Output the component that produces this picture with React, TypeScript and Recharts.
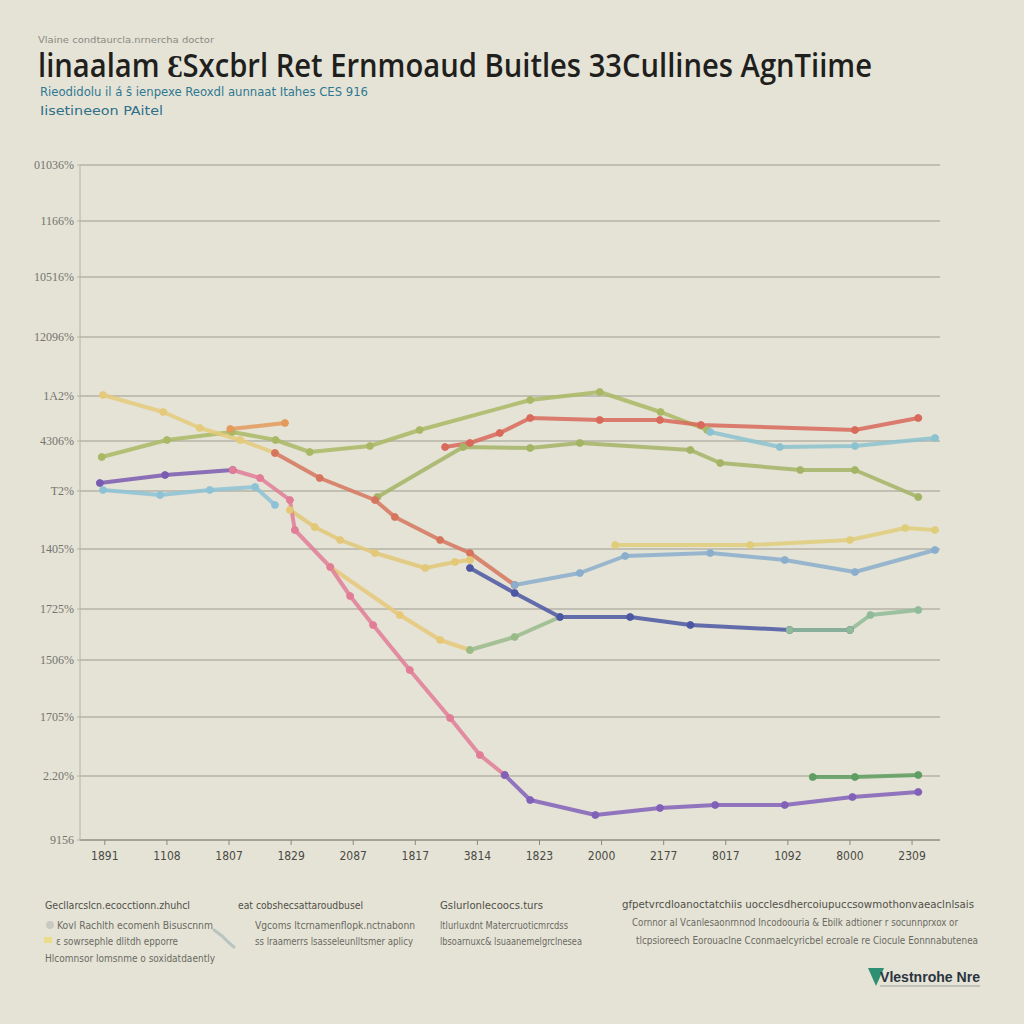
import { LineChart, Line, XAxis, YAxis, CartesianGrid } from 'recharts';

// x is a year index (0..13), y is the chart's own value scale
const years = ['1891', '1108', '1807', '1829', '2087', '1817', '3814', '1823', '2000', '2177', '8017', '1092', '8000', '2309'];
const leftTicks = [675, 619, 563, 503, 444, 399, 349, 291, 231, 180, 123, 64, 0];
const leftLabels = ['01036%', '1166%', '10516%', '12096%', '1A2%', '4306%', 'T2%', '1405%', '1725%', '1506%', '1705%', '2.20%', '9156'];
const rightTicks = [675, 618, 562, 504, 452, 407, 350, 294, 243, 218, 180, 123, 66, 0];
const rightLabels = ['32%', '23%', '35%', '27%', '28%', '33%', '15%', '31%', '45%', '58.500', '45%', '42%', '39%', 'TO%'];

const oliveTop = [[-0.05, 383], [1.0, 400], [2.05, 408], [2.75, 400], [3.3, 388], [4.27, 394], [5.07, 410], [6.85, 440], [7.97, 448], [8.95, 428], [9.7, 410]];
const tealRight = [[9.75, 408], [10.87, 393], [12.08, 394], [13.37, 402]];
const redTopRight = [[5.48, 393], [5.88, 397], [6.36, 407], [6.85, 422], [7.97, 420], [8.94, 420], [9.6, 415], [12.08, 410], [13.1, 422]];
const oliveMid = [[4.39, 343], [5.77, 393], [6.85, 392], [7.65, 397], [9.43, 390], [9.91, 377], [11.2, 370], [12.08, 370], [13.1, 343]];
const orangeShort = [[2.02, 411], [2.9, 417]];
const yellowTop = [[-0.03, 445], [0.94, 428], [1.53, 412], [2.18, 400], [2.74, 387]];
const redDesc = [[2.74, 387], [3.46, 362], [4.35, 340], [4.67, 323], [5.4, 300], [5.88, 287], [6.6, 255]];
const lightBlue = [[-0.03, 350], [0.89, 345], [1.69, 350], [2.42, 353], [2.74, 335]];
const purple = [[-0.08, 357], [0.97, 365], [2.06, 370]];
const pink = [[2.06, 370], [2.5, 362], [2.98, 340], [3.06, 310], [3.63, 273], [3.95, 244], [4.32, 215], [4.91, 170], [5.56, 122], [6.04, 85], [6.44, 65]];
const purpleBottom = [[6.44, 65], [6.85, 40], [7.9, 25], [8.94, 32], [9.83, 35], [10.95, 35], [12.04, 43], [13.1, 48]];
const yellowMid = [[2.98, 330], [3.38, 313], [3.79, 300], [4.35, 287], [5.16, 272], [5.64, 278], [5.88, 280]];
const yellowLow = [[3.63, 273], [4.75, 225], [5.4, 200], [5.88, 190]];
const greenLow = [[5.88, 190], [6.6, 203], [7.33, 223]];
const blueDark = [[5.88, 272], [6.6, 247], [7.33, 223], [8.46, 223], [9.43, 215], [11.03, 210], [12.0, 210]];
const greenRight = [[11.03, 210], [12.0, 210], [12.33, 225], [13.1, 230]];
const blueMid = [[6.6, 255], [7.65, 267], [8.38, 284], [9.75, 287], [10.95, 280], [12.08, 268], [13.37, 290]];
const yellowRight = [[8.22, 295], [10.39, 295], [12.0, 300], [12.89, 312], [13.37, 310]];
const greenTip = [[11.4, 63], [12.08, 63], [13.1, 65]];

const series = [
    { id: 'oliveTop', pts: oliveTop, color: '#a9b864' },
    { id: 'tealRight', pts: tealRight, color: '#8cc2cf' },
    { id: 'redTopRight', pts: redTopRight, color: '#d8695b' },
    { id: 'oliveMid', pts: oliveMid, color: '#a4b465' },
    { id: 'orangeShort', pts: orangeShort, color: '#e39a5a' },
    { id: 'yellowTop', pts: yellowTop, color: '#e4ca7a' },
    { id: 'redDesc', pts: redDesc, color: '#d6755e' },
    { id: 'lightBlue', pts: lightBlue, color: '#8dc2d6' },
    { id: 'purple', pts: purple, color: '#7a5bb2' },
    { id: 'yellowMid', pts: yellowMid, color: '#e2c877' },
    { id: 'yellowLow', pts: yellowLow, color: '#e6c878' },
    { id: 'pink', pts: pink, color: '#e27d98' },
    { id: 'purpleBottom', pts: purpleBottom, color: '#8160b8' },
    { id: 'greenLow', pts: greenLow, color: '#98bb88' },
    { id: 'blueDark', pts: blueDark, color: '#4b57a3' },
    { id: 'greenRight', pts: greenRight, color: '#8fbb98' },
    { id: 'blueMid', pts: blueMid, color: '#8aaecb' },
    { id: 'yellowRight', pts: yellowRight, color: '#e0cd7a' },
    { id: 'greenTip', pts: greenTip, color: '#5f9e62' },
];

const tickFmt = (ticks: number[], labels: string[]) => (v: number) => labels[ticks.indexOf(v)] ?? '';

const legendGray = '#6a6a62';

export default function App() {
    return (
        <div style={{ position: 'absolute', left: 0, top: 0, width: 1024, height: 1024, background: '#e5e3d6', overflow: 'hidden' }}>
            <LineChart width={1024} height={880} margin={{ top: 165, right: 0, bottom: 10, left: 0 }}>
                <CartesianGrid yAxisId="left" vertical={false} stroke="#9d9b8f" strokeWidth={1} />
                <XAxis
                    dataKey="u"
                    type="number"
                    domain={[-0.4, 13.45]}
                    ticks={years.map((_, i) => i)}
                    tickFormatter={(v: number) => years[v]}
                    allowDataOverflow
                    stroke="#8a887c"
                    tick={{ fill: '#4a4a44', fontSize: 12, fontFamily: "'DejaVu Sans Condensed', 'DejaVu Sans'" }}
                    tickSize={5}
                    tickMargin={6}
                    height={30}
                />
                <YAxis
                    yAxisId="left"
                    type="number"
                    domain={[0, 675]}
                    ticks={leftTicks}
                    tickFormatter={tickFmt(leftTicks, leftLabels)}
                    width={80}
                    stroke="#b4b2a6"
                    tick={{ fill: '#74746c', fontSize: 12, fontFamily: "'Liberation Serif'" }}
                    tickSize={3}
                    tickMargin={3}
                />
                <YAxis
                    yAxisId="right"
                    orientation="right"
                    type="number"
                    domain={[0, 675]}
                    ticks={rightTicks}
                    tickFormatter={tickFmt(rightTicks, rightLabels)}
                    width={84}
                    axisLine={false}
                    stroke="#9d9b8f"
                    tick={{ fill: '#74746c', fontSize: 12, fontFamily: "'Liberation Serif'" }}
                    tickSize={6}
                    tickMargin={6}
                />
                {series.map(s => (
                    <Line
                        key={s.id}
                        yAxisId="left"
                        data={s.pts.map(([u, v]) => ({ u, v }))}
                        dataKey="v"
                        type="linear"
                        stroke={s.color}
                        strokeWidth={4}
                        strokeOpacity={0.85}
                        strokeLinejoin="round"
                        strokeLinecap="round"
                        dot={{ r: 3.5, fill: s.color, stroke: s.color, strokeWidth: 1 }}
                        isAnimationActive={false}
                    />
                ))}
            </LineChart>

            <svg width={1024} height={1024} style={{ position: 'absolute', left: 0, top: 0, pointerEvents: 'none' }}>
                <text x={38} y={43} fontSize={8} fill="#8a8a82" fontFamily="'DejaVu Sans Condensed', 'DejaVu Sans'" textLength={176} lengthAdjust="spacingAndGlyphs">Vlaine condtaurcla.nrnercha doctor</text>
                <text x={38} y={77} fontSize={32} fontWeight={600} fill="#1f1f1d" fontFamily="'Open Sans'" textLength={834} lengthAdjust="spacingAndGlyphs">linaalam ƐSxcbrl Ret Ernmoaud Buitles 33Cullines AgnTiime</text>
                <text x={40} y={96} fontSize={12} fill="#2f7891" fontFamily="'DejaVu Sans Condensed', 'DejaVu Sans'" textLength={328} lengthAdjust="spacingAndGlyphs">Rieodidolu il á ŝ ienpexe Reoxdl aunnaat Itahes CES 916</text>
                <text x={40} y={115} fontSize={12} fill="#2f6f88" fontFamily="'DejaVu Sans Condensed', 'DejaVu Sans'" textLength={123} lengthAdjust="spacingAndGlyphs">Iisetineeon PAitel</text>

                <g fontFamily="'DejaVu Sans Condensed', 'DejaVu Sans'" fontSize={11} fill={legendGray}>
                    <text x={45} y={909} fill="#505049" textLength={145} lengthAdjust="spacingAndGlyphs">Gecllarcslcn.ecocctionn.zhuhcl</text>
                    <circle cx={50} cy={925} r={4} fill="#c9c9c2" />
                    <text x={57} y={929} textLength={156} lengthAdjust="spacingAndGlyphs">Kovl Rachlth ecomenh Bisuscnnm</text>
                    <rect x={44} y={937} width={8} height={6} fill="#eadc8a" />
                    <text x={56} y={945} textLength={122} lengthAdjust="spacingAndGlyphs">ɛ sowrsephle dlitdh epporre</text>
                    <text x={45} y={962} textLength={170} lengthAdjust="spacingAndGlyphs">Hlcomnsor lomsnme o soxidatdaently</text>
                    <path d="M214,930 L222,936 L228,942 L234,947" stroke="#b8c4c0" strokeWidth={3} fill="none" strokeLinecap="round" />

                    <text x={238} y={909} fill="#505049" textLength={125} lengthAdjust="spacingAndGlyphs">eat cobshecsattaroudbusel</text>
                    <text x={255} y={929} textLength={160} lengthAdjust="spacingAndGlyphs">Vgcoms ltcrnamenflopk.nctnabonn</text>
                    <text x={255} y={945} textLength={158} lengthAdjust="spacingAndGlyphs">ss lraamerrs lsasseleunlltsmer aplicy</text>

                    <text x={440} y={909} fill="#505049" textLength={103} lengthAdjust="spacingAndGlyphs">Gslurlonlecoocs.turs</text>
                    <text x={440} y={929} textLength={128} lengthAdjust="spacingAndGlyphs">ltlurluxdnt Matercruoticmrcdss</text>
                    <text x={440} y={945} textLength={142} lengthAdjust="spacingAndGlyphs">lbsoarnuxc&amp; lsuaanemelgrclnesea</text>

                    <text x={622} y={908} fill="#505049" textLength={352} lengthAdjust="spacingAndGlyphs">gfpetvrcdloanoctatchiis uocclesdhercoiupuccsowmothonvaeaclnlsais</text>
                    <text x={632} y={926} textLength={326} lengthAdjust="spacingAndGlyphs">Cornnor al Vcanlesaonrnnod Incodoouria &amp; Ebilk adtioner r socunnprxox or</text>
                    <text x={636} y={944} textLength={342} lengthAdjust="spacingAndGlyphs">tlcpsioreech Eorouaclne Cconmaelcyricbel ecroale re Ciocule Eonnnabutenea</text>
                </g>

                <path d="M868,968 L884,968 L876,986 Z" fill="#2f8f73" />
                <text x={880} y={982} fontSize={14} fontWeight={700} fill="#2a3440" fontFamily="'Liberation Sans'" textLength={100} lengthAdjust="spacingAndGlyphs">Vlestnrohe Nre</text>
                <line x1={880} y1={986} x2={980} y2={986} stroke="#9aa0a0" strokeWidth={1} />
            </svg>
        </div>
    );
}
